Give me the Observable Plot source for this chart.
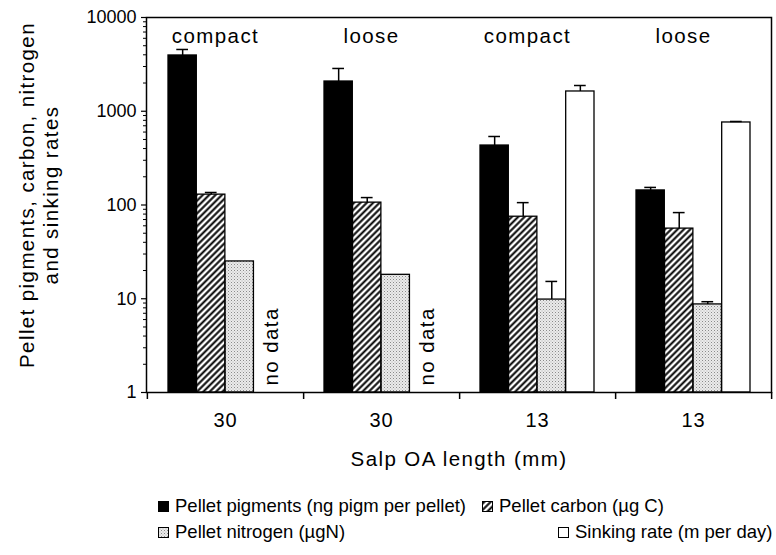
<!DOCTYPE html>
<html><head><meta charset="utf-8">
<script src="https://cdn.jsdelivr.net/npm/d3@7"></script>
<script src="https://cdn.jsdelivr.net/npm/@observablehq/plot@0.6"></script>
<style>
body{margin:0;background:#fff;}
#wrap{position:relative;width:776px;height:555px;font-family:"Liberation Sans",Arial,sans-serif;font-size:18.5px;color:#000;background:#fff;}
.leg{position:absolute;display:flex;align-items:center;white-space:nowrap;height:22px;line-height:22px;}
.leg svg{margin-right:6px;flex:none;}
</style></head><body><div id="wrap"></div>
<script>
// ---- data ----
const groups = ["30 compact", "30 loose", "13 compact", "13 loose"];
const lengthLabels = ["30", "30", "13", "13"];
const textureLabels = ["compact", "loose", "compact", "loose"];
const seriesNames = ["Pellet pigments (ng pigm per pellet)", "Pellet carbon (µg C)", "Pellet nitrogen (µgN)", "Sinking rate (m per day)"];
const pigments = [3935, 2076, 431, 143];
const pigmentsUpper = [4560, 2860, 538, 154];
const carbon = [129, 106, 75, 56];
const carbonUpper = [136, 120, 106, 83];
const nitrogen = [25, 18, 9.8, 8.7];
const nitrogenUpper = [null, null, 15.3, 9.3];
const sinking = [null, null, 1625, 759];
const sinkingUpper = [null, null, 1882, 778];
const yTicks = [1, 10, 100, 1000, 10000];
const noDataText = "no data";
const xTitle = "Salp OA length (mm)";
const yTitle1 = "Pellet pigments, carbon, nitrogen";
const yTitle2 = "and sinking rates";

const values = [pigments, carbon, nitrogen, sinking];
const uppers = [pigmentsUpper, carbonUpper, nitrogenUpper, sinkingUpper];
const fills = ["black", "url(#hatch)", "url(#dots)", "white"];

const rows = [];
values.forEach((arr, j) => arr.forEach((v, i) => rows.push({group: groups[i], s: j, value: v, upper: uppers[j][i]})));

// ---- layout ----
const W = 776, H = 480, ML = 146, MR = 5, MT = 17, MB = 88;
const BAND = (W - ML - MR) / 4;
const PAD = 21;
const BW = (BAND - 2 * PAD) / 4;
const off = j => -BAND / 2 + PAD + (j + 0.5) * BW;
const frameH = H - MT - MB;
const big = {fontSize: 20, letterSpacing: 1.5};
const bigStyle = sel => sel;

const minorTicks = d3.scaleLog().domain([1, 10000]).ticks().filter(t => !yTicks.includes(t));

const marks = [];
for (let j = 0; j < 4; j++) {
  marks.push(Plot.barY(rows.filter(d => d.s === j && d.value != null), {
    x: "group", y1: 1, y2: "value", fill: fills[j], stroke: "black", strokeWidth: 1.3,
    insetLeft: PAD + j * BW, insetRight: BAND - PAD - (j + 1) * BW
  }));
}
for (let j = 0; j < 4; j++) {
  const e = rows.filter(d => d.s === j && d.upper != null);
  marks.push(Plot.ruleX(e, {x: "group", y1: "value", y2: "upper", dx: off(j), stroke: "black", strokeWidth: 1.5}));
  marks.push(Plot.tickY(e, {x: "group", y: "upper", dx: off(j), insetLeft: BAND / 2 - 6, insetRight: BAND / 2 - 6, stroke: "black", strokeWidth: 1.5}));
}
marks.push(
  Plot.frame({stroke: "black", strokeWidth: 1.5}),
  Plot.axisY({ticks: yTicks, tickSize: 5, tickPadding: 5, tickFormat: d => String(d), label: null, fontSize: 18, strokeWidth: 1.2}),
  Plot.axisY({ticks: minorTicks, tickSize: 3, tickFormat: () => "", label: null, strokeWidth: 1}),
  Plot.axisX({tickSize: 0, tickPadding: 20, tickFormat: d => lengthLabels[groups.indexOf(d)], label: null, fontSize: 20}),
  Plot.ruleX(groups, {x: d => d, dx: BAND / 2, insetTop: frameH, insetBottom: -7, stroke: "black", strokeWidth: 1.5}),
  Plot.ruleX([groups[0]], {x: d => d, dx: -BAND / 2, insetTop: frameH, insetBottom: -7, stroke: "black", strokeWidth: 1.5}),
  Plot.text(groups, {x: d => d, text: (d, i) => textureLabels[i], frameAnchor: "top", lineAnchor: "middle", dy: 19, dx: -10, className: "big"}),
  Plot.text(groups.filter((g, i) => sinking[i] == null), {x: d => d, text: () => noDataText, frameAnchor: "bottom", rotate: -90, textAnchor: "start", lineAnchor: "middle", dx: off(3) + 3, dy: -7, className: "big"}),
  Plot.text([yTitle1], {text: d => d, frameAnchor: "left", rotate: -90, textAnchor: "middle", lineAnchor: "middle", dx: -119, dy: -10, className: "big"}),
  Plot.text([yTitle2], {text: d => d, frameAnchor: "left", rotate: -90, textAnchor: "middle", lineAnchor: "middle", dx: -95, dy: -10, className: "big"}),
  Plot.text([xTitle], {text: d => d, frameAnchor: "bottom", lineAnchor: "middle", dy: 67, className: "big"})
);

const svg = Plot.plot({
  width: W, height: H,
  marginLeft: ML, marginRight: MR, marginTop: MT, marginBottom: MB,
  style: {fontFamily: '"Liberation Sans", Arial, sans-serif', fontSize: "18px", background: "white", color: "black", overflow: "visible"},
  x: {domain: groups, padding: 0},
  y: {type: "log", domain: [1, 10000]},
  marks
});

// larger, slightly wider annotation text
d3.select(svg).selectAll("g.big text, .big text").style("font-size", "20.5px").style("letter-spacing", "1.4px");
d3.select(svg).selectAll("g[aria-label='x-axis tick label'] text").style("letter-spacing", "1px");

// patterns
const defs = d3.select(svg).insert("defs", ":first-child");
const h = defs.append("pattern").attr("id", "hatch").attr("patternUnits", "userSpaceOnUse")
  .attr("width", 4.5).attr("height", 4.5).attr("patternTransform", "rotate(45)");
h.append("rect").attr("width", 4.5).attr("height", 4.5).attr("fill", "white");
h.append("line").attr("x1", 2.25).attr("y1", -1).attr("x2", 2.25).attr("y2", 6).attr("stroke", "black").attr("stroke-width", 2);
const p = defs.append("pattern").attr("id", "dots").attr("patternUnits", "userSpaceOnUse").attr("width", 3).attr("height", 3);
p.append("rect").attr("width", 3).attr("height", 3).attr("fill", "#ebebeb");
p.append("rect").attr("width", 1).attr("height", 1).attr("fill", "#8a8a8a");
p.append("rect").attr("x", 1.5).attr("y", 1.5).attr("width", 1).attr("height", 1).attr("fill", "#b0b0b0");

const wrap = document.getElementById("wrap");
wrap.appendChild(svg);
svg.style.position = "absolute"; svg.style.left = "0px"; svg.style.top = "0px";

// legend (HTML, below the chart)
const legPos = [[158, 495], [482, 495], [158, 521], [558, 521]];
seriesNames.forEach((name, j) => {
  const div = document.createElement("div");
  div.className = "leg";
  div.style.left = legPos[j][0] + "px";
  div.style.top = legPos[j][1] + "px";
  const sw = d3.create("svg").attr("width", 11).attr("height", 11);
  sw.append("rect").attr("x", 0.5).attr("y", 0.5).attr("width", 10).attr("height", 10)
    .attr("fill", fills[j]).attr("stroke", "black").attr("stroke-width", 1);
  div.appendChild(sw.node());
  const span = document.createElement("span");
  span.textContent = name;
  div.appendChild(span);
  wrap.appendChild(div);
});
</script></body></html>
